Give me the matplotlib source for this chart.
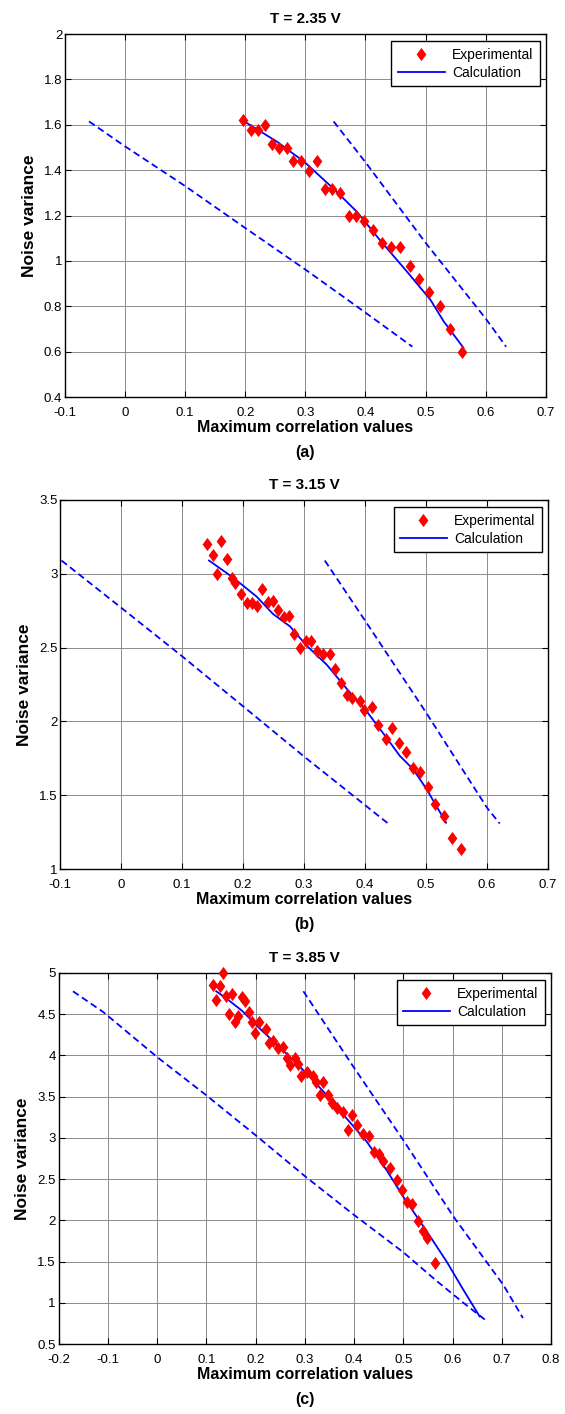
import numpy as np
import matplotlib.pyplot as plt
from matplotlib.ticker import FuncFormatter

plt.rcParams['font.family'] = ['Liberation Sans', 'DejaVu Sans']
plt.rcParams['axes.unicode_minus'] = False

# --- panel (a): T = 2.35 V ---
a_exp_x = [0.197, 0.209, 0.221, 0.232, 0.245, 0.256, 0.269, 0.280, 0.292, 0.306,
           0.319, 0.332, 0.344, 0.358, 0.372, 0.384, 0.398, 0.412, 0.427, 0.443,
           0.457, 0.474, 0.489, 0.505, 0.524, 0.540, 0.561]
a_exp_y = [1.620, 1.577, 1.577, 1.600, 1.515, 1.498, 1.498, 1.439, 1.442, 1.396,
           1.439, 1.318, 1.318, 1.301, 1.197, 1.197, 1.178, 1.136, 1.080, 1.061,
           1.061, 0.978, 0.921, 0.861, 0.800, 0.702, 0.600]
a_calc_x = [0.197, 0.252, 0.299, 0.347, 0.386, 0.424, 0.469, 0.508, 0.530, 0.563]
a_calc_y = [1.617, 1.527, 1.435, 1.318, 1.216, 1.092, 0.953, 0.829, 0.734, 0.617]
a_lo_x = [-0.060, 0.0, 0.1, 0.2, 0.3, 0.4, 0.478]
a_lo_y = [1.615, 1.505, 1.330, 1.145, 0.962, 0.772, 0.622]
a_hi_x = [0.347, 0.4, 0.5, 0.6, 0.634]
a_hi_y = [1.615, 1.435, 1.080, 0.746, 0.622]

# --- panel (b): T = 3.15 V ---
b_exp_x = [0.140, 0.150, 0.164, 0.157, 0.174, 0.181, 0.187, 0.197, 0.207, 0.214,
           0.223, 0.231, 0.241, 0.249, 0.257, 0.267, 0.275, 0.284, 0.294, 0.303,
           0.312, 0.321, 0.331, 0.342, 0.351, 0.360, 0.370, 0.379, 0.391, 0.399,
           0.411, 0.422, 0.434, 0.445, 0.456, 0.467, 0.479, 0.491, 0.503, 0.515,
           0.530, 0.543, 0.558]
b_exp_y = [3.199, 3.124, 3.222, 3.000, 3.097, 2.973, 2.937, 2.862, 2.801, 2.801,
           2.781, 2.900, 2.812, 2.817, 2.758, 2.704, 2.713, 2.593, 2.495, 2.543,
           2.543, 2.480, 2.457, 2.457, 2.357, 2.258, 2.176, 2.158, 2.140, 2.077,
           2.100, 1.975, 1.878, 1.953, 1.855, 1.792, 1.683, 1.656, 1.559, 1.439,
           1.360, 1.213, 1.138]
b_calc_x = [0.144, 0.184, 0.222, 0.249, 0.277, 0.304, 0.337, 0.369, 0.402, 0.435,
            0.457, 0.479, 0.501, 0.533]
b_calc_y = [3.090, 2.973, 2.846, 2.728, 2.643, 2.514, 2.385, 2.226, 2.072, 1.891,
            1.767, 1.676, 1.541, 1.314]
b_lo_x = [-0.098, 0.0, 0.1, 0.2, 0.3, 0.438]
b_lo_y = [3.090, 2.770, 2.441, 2.102, 1.762, 1.308]
b_hi_x = [0.334, 0.4, 0.5, 0.6, 0.621]
b_hi_y = [3.090, 2.683, 2.061, 1.416, 1.308]

# --- panel (c): T = 3.85 V ---
c_exp_x = [0.133, 0.114, 0.127, 0.119, 0.139, 0.152, 0.172, 0.179, 0.145, 0.158,
           0.165, 0.186, 0.192, 0.198, 0.206, 0.221, 0.227, 0.236, 0.245, 0.255,
           0.263, 0.269, 0.280, 0.286, 0.292, 0.304, 0.316, 0.322, 0.337, 0.331,
           0.348, 0.356, 0.365, 0.378, 0.395, 0.387, 0.406, 0.419, 0.431, 0.441,
           0.450, 0.458, 0.473, 0.488, 0.497, 0.507, 0.517, 0.529, 0.539, 0.549,
           0.564]
c_exp_y = [4.996, 4.855, 4.847, 4.673, 4.726, 4.746, 4.706, 4.665, 4.504, 4.411,
           4.484, 4.524, 4.411, 4.274, 4.411, 4.323, 4.153, 4.181, 4.093, 4.101,
           3.972, 3.879, 3.972, 3.891, 3.746, 3.798, 3.746, 3.677, 3.677, 3.524,
           3.524, 3.427, 3.363, 3.315, 3.274, 3.101, 3.153, 3.044, 3.024, 2.823,
           2.802, 2.718, 2.629, 2.488, 2.367, 2.226, 2.194, 1.996, 1.875, 1.790,
           1.480]
c_calc_x = [0.120, 0.142, 0.172, 0.209, 0.263, 0.304, 0.345, 0.385, 0.426, 0.466,
            0.500, 0.548, 0.588, 0.622, 0.655]
c_calc_y = [4.778, 4.685, 4.544, 4.323, 4.020, 3.778, 3.516, 3.234, 2.952, 2.609,
            2.286, 1.863, 1.500, 1.157, 0.835]
c_lo_x = [-0.171, -0.109, 0.0, 0.1, 0.2, 0.3, 0.4, 0.5, 0.565, 0.622, 0.666]
c_lo_y = [4.778, 4.524, 3.980, 3.516, 3.032, 2.536, 2.065, 1.613, 1.278, 1.000, 0.794]
c_hi_x = [0.297, 0.399, 0.5, 0.602, 0.703, 0.743]
c_hi_y = [4.778, 3.859, 2.972, 2.044, 1.218, 0.815]

panels = [
    dict(title='T = 2.35 V', tag='(a)', rect=[0.115, 0.7192, 0.851, 0.2567],
         xlim=(-0.1, 0.7), ylim=(0.4, 2.0), yticks=np.arange(0.4, 2.01, 0.2),
         exp=(a_exp_x, a_exp_y), calc=(a_calc_x, a_calc_y),
         lo=(a_lo_x, a_lo_y), hi=(a_hi_x, a_hi_y)),
    dict(title='T = 3.15 V', tag='(b)', rect=[0.1067, 0.3854, 0.863, 0.261],
         xlim=(-0.1, 0.7), ylim=(1.0, 3.5), yticks=np.arange(1.0, 3.51, 0.5),
         exp=(b_exp_x, b_exp_y), calc=(b_calc_x, b_calc_y),
         lo=(b_lo_x, b_lo_y), hi=(b_hi_x, b_hi_y)),
    dict(title='T = 3.85 V', tag='(c)', rect=[0.1039, 0.0495, 0.8713, 0.2624],
         xlim=(-0.2, 0.8), ylim=(0.5, 5.0), yticks=np.arange(0.5, 5.01, 0.5),
         exp=(c_exp_x, c_exp_y), calc=(c_calc_x, c_calc_y),
         lo=(c_lo_x, c_lo_y), hi=(c_hi_x, c_hi_y)),
]

fmt = FuncFormatter(lambda v, p: '%g' % round(v, 3))
# diamond a bit wider than matplotlib's thin_diamond, like matlab's 'd'
diamond = [(0, 1), (0.74, 0), (0, -1), (-0.74, 0), (0, 1)]

fig = plt.figure(figsize=(5.65, 14.14), dpi=100)
for p in panels:
    ax = fig.add_axes(p['rect'])
    ax.plot(*p['exp'], linestyle='none', marker=diamond, color='#ff0000',
            markersize=9.5, markeredgewidth=0, label='Experimental', clip_on=False, zorder=4)
    ax.plot(*p['calc'], color='#0000ff', lw=1.3, label='Calculation', zorder=3)
    ax.plot(*p['lo'], color='#0000ff', lw=1.3, dashes=(3.8, 2.2), zorder=3)
    ax.plot(*p['hi'], color='#0000ff', lw=1.3, dashes=(3.8, 2.2), zorder=3)

    ax.set_xlim(*p['xlim'])
    ax.set_ylim(*p['ylim'])
    ax.set_xticks(np.arange(p['xlim'][0], p['xlim'][1] + 0.001, 0.1))
    ax.set_yticks(p['yticks'])
    ax.xaxis.set_major_formatter(fmt)
    ax.yaxis.set_major_formatter(fmt)
    ax.grid(True, color='#8c8c8c', lw=0.7)
    ax.set_axisbelow(True)
    ax.tick_params(direction='in', top=True, right=True, labelsize=9.5, length=4,
                   width=0.8)
    ax.tick_params(axis='x', pad=7)
    ax.tick_params(axis='y', pad=2)
    for s in ax.spines.values():
        s.set_linewidth(1.0)

    ax.set_title(p['title'], fontsize=11, fontweight='bold', pad=8)
    ax.set_xlabel('Maximum correlation values', fontsize=11.5, fontweight='bold', labelpad=1)
    ax.set_ylabel('Noise variance', fontsize=12.5, fontweight='bold', labelpad=5)
    ax.annotate(p['tag'], xy=(0.5, 0), xycoords='axes fraction', xytext=(0, -40),
                textcoords='offset points', ha='center', va='center',
                fontsize=11.5, fontweight='bold')

    leg = ax.legend(loc='upper right', bbox_to_anchor=(0.987, 0.98), fontsize=10,
                    numpoints=1, handlelength=3.4, handletextpad=0.5,
                    borderpad=0.45, labelspacing=0.3, fancybox=False,
                    framealpha=1, edgecolor='black', borderaxespad=0)
    leg.get_frame().set_linewidth(1.0)

fig.savefig('out.png', dpi=100)
